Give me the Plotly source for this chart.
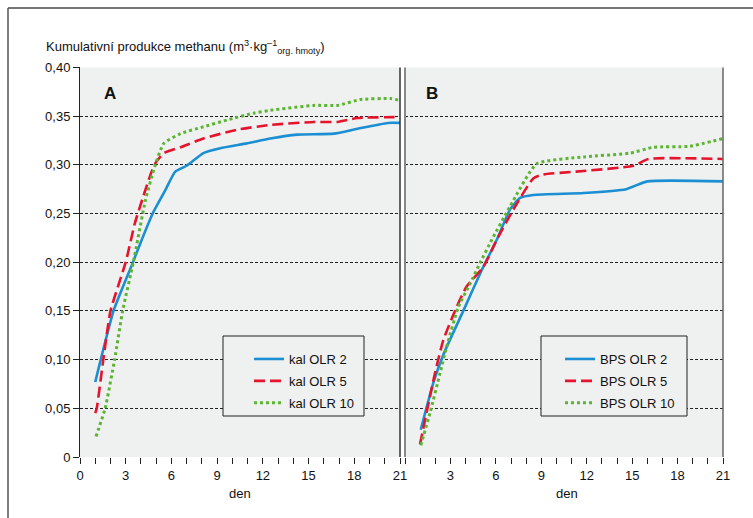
import plotly.graph_objects as go

# ---------------- data ----------------
A_kal2_x = [1, 1.36, 2.2, 3.4, 3.95, 4.8, 5.6, 6.25, 7.0, 8.1, 9.2, 10.95, 12.5, 14.25, 16.66, 18.2, 20.2, 21]
A_kal2_y = [0.077, 0.100, 0.150, 0.197, 0.219, 0.251, 0.274, 0.293, 0.299, 0.312, 0.317, 0.322, 0.327, 0.331, 0.332, 0.337, 0.343, 0.343]

A_kal5_x = [1, 1.1, 1.53, 2.0, 3.0, 3.6, 4.1, 4.7, 5.0, 5.5, 6.6, 8.1, 10.3, 12.5, 15.35, 16.9, 18.2, 21]
A_kal5_y = [0.045, 0.050, 0.100, 0.150, 0.200, 0.240, 0.265, 0.293, 0.303, 0.312, 0.318, 0.327, 0.336, 0.341, 0.344, 0.344, 0.348, 0.349]

A_kal10_x = [1.05, 1.65, 2.27, 2.8, 3.5, 4.3, 4.9, 5.5, 6.6, 8.1, 9.65, 11.4, 12.5, 15.35, 16.9, 18.4, 20.4, 21]
A_kal10_y = [0.021, 0.050, 0.100, 0.150, 0.200, 0.264, 0.298, 0.322, 0.332, 0.339, 0.346, 0.353, 0.356, 0.361, 0.361, 0.367, 0.368, 0.366]

B_bps2_x = [1.04, 1.87, 2.53, 3.85, 5.07, 6.06, 6.93, 7.6, 8.47, 11.8, 14.6, 16.0, 21]
B_bps2_y = [0.028, 0.076, 0.105, 0.150, 0.192, 0.223, 0.254, 0.266, 0.269, 0.271, 0.275, 0.283, 0.283]

B_bps5_x = [0.99, 1.98, 2.53, 3.41, 4.07, 5.17, 6.06, 7.15, 8.47, 9.1, 11.3, 15.1, 16.07, 21]
B_bps5_y = [0.013, 0.086, 0.120, 0.154, 0.175, 0.195, 0.223, 0.254, 0.286, 0.290, 0.293, 0.299, 0.306, 0.306]

B_bps10_x = [1.04, 1.65, 2.31, 2.75, 3.52, 4.3, 4.95, 5.73, 6.93, 8.7, 11.78, 14.86, 16.4, 18.8, 21]
B_bps10_y = [0.012, 0.045, 0.086, 0.113, 0.154, 0.178, 0.199, 0.223, 0.257, 0.301, 0.308, 0.312, 0.318, 0.319, 0.327]

y_tick_vals = [0, 0.05, 0.10, 0.15, 0.20, 0.25, 0.30, 0.35, 0.40]
y_tick_text = ["0", "0,05", "0,10", "0,15", "0,20", "0,25", "0,30", "0,35", "0,40"]
xA_ticks = [0, 3, 6, 9, 12, 15, 18, 21]
xB_ticks = [3, 6, 9, 12, 15, 18, 21]

# ---------------- style ----------------
FONT = "Liberation Sans, Arial, sans-serif"
BLUE = "#1b8fd2"
RED = "#e5142c"
GREEN = "#5cb531"
BG = "#eff0f0"
W, H = 753, 518

fig = go.Figure()

def add(x, y, name, color, dash, width, xa, ya, legend):
    fig.add_trace(go.Scatter(
        x=x, y=y, name=name, mode="lines", legendgroup=name,
        line=dict(color=color, dash=dash, width=width, shape="spline", smoothing=0.5),
        xaxis=xa, yaxis=ya, legend=legend))

add(A_kal2_x, A_kal2_y, "kal OLR 2", BLUE, "solid", 2.6, "x", "y", "legend")
add(A_kal5_x, A_kal5_y, "kal OLR 5", RED, "11px,5px", 2.6, "x", "y", "legend")
add(A_kal10_x, A_kal10_y, "kal OLR 10", GREEN, "3px,3px", 3, "x", "y", "legend")
add(B_bps2_x, B_bps2_y, "BPS OLR 2", BLUE, "solid", 2.6, "x2", "y2", "legend2")
add(B_bps5_x, B_bps5_y, "BPS OLR 5", RED, "11px,5px", 2.6, "x2", "y2", "legend2")
add(B_bps10_x, B_bps10_y, "BPS OLR 10", GREEN, "3px,3px", 3, "x2", "y2", "legend2")

ydom = [1 - 457 / H, 1 - 67.4 / H]
xdomA = [80 / W, 400 / W]
xdomB = [405 / W, 723 / W]

tickfont = dict(family=FONT, size=13, color="#111")
common_x = dict(range=[0, 21], showgrid=False, zeroline=False, showline=False,
                ticks="outside", ticklen=6, tickcolor="#222", tickwidth=1,
                tickfont=tickfont, fixedrange=True, automargin=False,
                minor=dict(tickmode="linear", tick0=0, dtick=1, ticks="outside",
                           ticklen=6, tickcolor="#222", tickwidth=1, showgrid=False))
common_y = dict(range=[0, 0.40], tickmode="array", tickvals=y_tick_vals,
                showgrid=True, gridcolor="#222", griddash="3px,2px", gridwidth=1,
                zeroline=False, fixedrange=True, automargin=False)

legend_common = dict(xanchor="left", yanchor="top", bgcolor="rgba(0,0,0,0)",
                     borderwidth=0, tracegroupgap=2,
                     font=dict(family=FONT, size=13, color="#111"))

fig.update_layout(
    width=W, height=H,
    margin=dict(l=0, r=0, t=0, b=0, pad=0, autoexpand=False),
    paper_bgcolor="white", plot_bgcolor=BG,
    font=dict(family=FONT, size=13, color="#111"),
    xaxis=dict(domain=xdomA, anchor="y", tickmode="array", tickvals=xA_ticks, **common_x),
    xaxis2=dict(domain=xdomB, anchor="y2", tickmode="array", tickvals=xB_ticks, **common_x),
    yaxis=dict(domain=ydom, anchor="x", ticktext=y_tick_text, ticks="outside", ticklen=6,
               tickcolor="#222", tickfont=tickfont, showline=True, linecolor="#222",
               linewidth=1, **common_y),
    yaxis2=dict(domain=ydom, anchor="x2", showticklabels=False, ticks="", **common_y),
    legend=dict(x=249 / W, y=1 - 344 / H, **legend_common),
    legend2=dict(x=560 / W, y=1 - 344 / H, **legend_common),
    showlegend=True,
)

shapes = [
    # outer frame (top & left)
    dict(type="line", xref="paper", yref="paper", x0=8 / W, x1=1, y0=1 - 8 / H, y1=1 - 8 / H,
         line=dict(color="#777", width=2)),
    dict(type="line", xref="paper", yref="paper", x0=8 / W, x1=8 / W, y0=0, y1=1 - 8 / H,
         line=dict(color="#555", width=1.5)),
    # panel borders
    dict(type="line", xref="x domain", yref="y domain", x0=1, x1=1, y0=0, y1=1,
         line=dict(color="#333", width=1.5)),
    dict(type="line", xref="x2 domain", yref="y2 domain", x0=0, x1=0, y0=0, y1=1,
         line=dict(color="#888", width=2)),
    dict(type="line", xref="x2 domain", yref="y2 domain", x0=1, x1=1, y0=0, y1=1,
         line=dict(color="#666", width=1.5)),
    # legend boxes
    dict(type="rect", xref="paper", yref="paper", layer="above",
         x0=223 / W, x1=364 / W, y0=1 - 416 / H, y1=1 - 336 / H,
         fillcolor=BG, line=dict(color="#222", width=1)),
    dict(type="rect", xref="paper", yref="paper", layer="above",
         x0=541 / W, x1=687 / W, y0=1 - 416 / H, y1=1 - 336 / H,
         fillcolor=BG, line=dict(color="#222", width=1)),
]
fig.update_layout(shapes=shapes)

def anno(text, px, py, size, xanchor="center"):
    return dict(text=text, x=px / W, y=1 - py / H, xref="paper", yref="paper",
                xanchor=xanchor, yanchor="middle", showarrow=False,
                font=dict(family=FONT, size=size, color="#111"))

annos = [
    anno("Kumulativní produkce methanu (m<sup>3</sup>·kg<sup>–1</sup><sub>org. hmoty</sub>)",
         44, 47, 13, "left"),
    anno("<b>A</b>", 110, 94, 17),
    anno("<b>B</b>", 432, 94, 17),
    anno("den", 240, 493, 13),
    anno("den", 567, 493, 13),
]
fig.update_layout(annotations=annos)

fig.write_html("out.html", config={"displayModeBar": False},
               post_script="document.body.style.margin='0';document.documentElement.style.overflow='hidden';document.body.style.overflow='hidden';")
